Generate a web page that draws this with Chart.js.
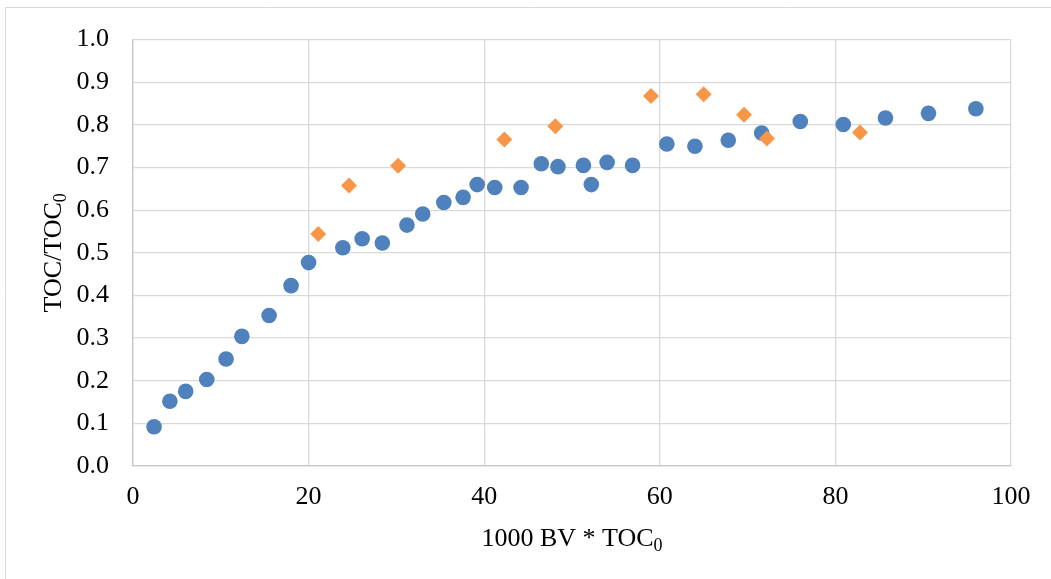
<!DOCTYPE html>
<html>
<head>
<meta charset="utf-8">
<script src="https://cdn.jsdelivr.net/npm/chart.js@4/dist/chart.umd.min.js"></script>
<style>
  html, body { margin: 0; padding: 0; background: #fff; }
  #chart { display: block; }
</style>
</head>
<body>
<canvas id="chart" width="1051" height="579"></canvas>
<script>
// 測定値 (BV*TOC0 と TOC/TOC0)
const seriesAx = [2.4, 4.2, 6.0, 8.4, 10.6, 12.4, 15.5, 18.0, 20.0, 23.9, 26.1, 28.4, 31.2, 33.0, 35.4, 37.6, 39.2, 41.2, 44.2, 46.5, 48.4, 51.3, 52.2, 54.0, 56.9, 60.8, 64.0, 67.8, 71.6, 76.0, 80.9, 85.7, 90.6, 96.0];
const seriesAy = [0.092, 0.152, 0.175, 0.203, 0.251, 0.304, 0.353, 0.423, 0.477, 0.512, 0.533, 0.523, 0.565, 0.591, 0.618, 0.630, 0.660, 0.653, 0.653, 0.709, 0.702, 0.705, 0.660, 0.712, 0.705, 0.755, 0.750, 0.764, 0.781, 0.808, 0.801, 0.816, 0.827, 0.838];
const seriesBx = [21.1, 24.6, 30.2, 42.3, 48.1, 59.0, 65.0, 69.6, 72.2, 82.8];
const seriesBy = [0.544, 0.658, 0.704, 0.766, 0.797, 0.868, 0.872, 0.824, 0.768, 0.782];

const xTicks = [0, 20, 40, 60, 80, 100];
const yTicks = [0.0, 0.1, 0.2, 0.3, 0.4, 0.5, 0.6, 0.7, 0.8, 0.9, 1.0];

const FONT = "'Liberation Serif', 'Times New Roman', serif";

function toPoints(xs, ys) {
  return xs.map(function (x, i) { return { x: x, y: ys[i] }; });
}

// 枠線と軸タイトル (下付き文字付き) を描く
const framePlugin = {
  id: "frame",
  beforeDraw: function (chart) {
    const ctx = chart.ctx;
    ctx.save();
    ctx.strokeStyle = "#d9d9d9";
    ctx.lineWidth = 1;
    ctx.beginPath();
    ctx.moveTo(5.5, 600);
    ctx.lineTo(5.5, 7.5);
    ctx.lineTo(1100, 7.5);
    ctx.stroke();
    ctx.restore();
  },
  afterDraw: function (chart) {
    const ctx = chart.ctx;
    const area = chart.chartArea;
    ctx.save();
    ctx.fillStyle = "#000";

    function drawSub(main, sub, cx, baseY) {
      ctx.font = "26px " + FONT;
      const w1 = ctx.measureText(main).width;
      ctx.font = "18px " + FONT;
      const w2 = ctx.measureText(sub).width;
      const start = cx - (w1 + w2) / 2;
      ctx.textBaseline = "alphabetic";
      ctx.textAlign = "left";
      ctx.font = "26px " + FONT;
      ctx.fillText(main, start, baseY);
      ctx.font = "18px " + FONT;
      ctx.fillText(sub, start + w1, baseY + 5);
    }

    // x 軸タイトル
    drawSub("1000 BV * TOC", "0", (area.left + area.right) / 2, 546);

    // y 軸タイトル
    ctx.translate(61, (area.top + area.bottom) / 2);
    ctx.rotate(-Math.PI / 2);
    drawSub("TOC/TOC", "0", 0, 0);
    ctx.restore();
  }
};

var ctx = document.getElementById("chart").getContext("2d");
var myChart = new Chart(ctx, {
  type: "scatter",
  data: {
    datasets: [
      {
        label: "A",
        data: toPoints(seriesAx, seriesAy),
        pointStyle: "circle",
        pointRadius: 7.8,
        pointHoverRadius: 7.8,
        backgroundColor: "#4f81bd",
        borderColor: "#4f81bd",
        borderWidth: 0,
        order: 1,
      },
      {
        label: "B",
        data: toPoints(seriesBx, seriesBy),
        pointStyle: "rectRot",
        pointRadius: 8,
        pointHoverRadius: 8,
        backgroundColor: "#f79646",
        borderColor: "#f79646",
        borderWidth: 0,
        order: 0,
      },
    ],
  },
  options: {
    responsive: false,
    animation: false,
    events: [],
    layout: {
      padding: { left: 0, right: 40, top: 38, bottom: 0 },
    },
    plugins: {
      legend: { display: false },
      tooltip: { enabled: false },
    },
    scales: {
      x: {
        type: "linear",
        min: 0,
        max: 100,
        afterFit: function (scale) { scale.height = 113; },
        afterBuildTicks: function (scale) {
          scale.ticks = xTicks.map(function (v) { return { value: v }; });
        },
        ticks: {
          padding: 16,
          color: "#000",
          font: { family: FONT, size: 26 },
          maxRotation: 0,
          callback: function (v) { return String(v); },
        },
        grid: { color: "#d9d9d9", lineWidth: 1.3, drawTicks: false },
        border: { color: "#c6c6c6", width: 1.3 },
      },
      y: {
        type: "linear",
        min: 0,
        max: 1,
        afterFit: function (scale) { scale.width = 133; },
        afterBuildTicks: function (scale) {
          scale.ticks = yTicks.map(function (v) { return { value: v }; });
        },
        ticks: {
          padding: 24,
          color: "#000",
          font: { family: FONT, size: 26 },
          callback: function (v) { return v.toFixed(1); },
        },
        grid: { color: "#d9d9d9", lineWidth: 1.3, drawTicks: false },
        border: { color: "#c6c6c6", width: 1.3 },
      },
    },
  },
  plugins: [framePlugin],
});
</script>
</body>
</html>
